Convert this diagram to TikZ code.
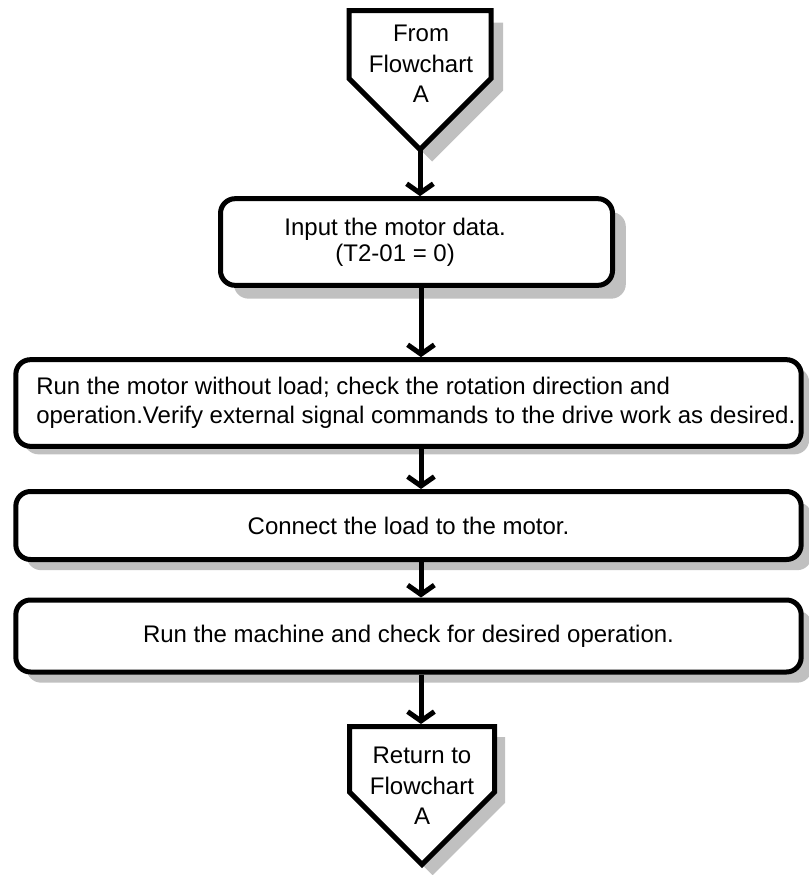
\documentclass[tikz,border=0pt]{standalone}
\usepackage{fontspec}
\setmainfont{Liberation Sans}
\usetikzlibrary{arrows.meta,shadows}
\definecolor{shadowgray}{RGB}{192,192,192}
\tikzset{
  stepbox/.style={draw,line width=3.75pt,fill=white,rounded corners=11pt,inner sep=0pt},
  penta/.style={draw,line width=3.75pt,fill=white},
  flowarrow/.style={line width=3.75pt,-{Straight Barb[length=7pt,width=20pt]}},
  shadowed/.style={drop shadow={shadow xshift=#1,shadow yshift=-#1,fill=shadowgray,opacity=1}},
}
\begin{document}
\begin{tikzpicture}[x=0.75pt,y=0.75pt,yscale=-1,xscale=1,font=\fontsize{18}{22}\selectfont]
        \useasboundingbox (0,0) rectangle (808,875);
        \draw[penta,shadowed=9pt] (349,10.5) -- (491,10.5) -- (491,78.5) -- (420,149.5) -- (349,78.5) -- cycle ;
        \coordinate (fromtip) at (420,149.5);
        \node[align=center,font=\fontsize{18}{23}\selectfont] (fromtext) at (421,64) {From\\Flowchart\\A};
        \node[stepbox,shadowed=10pt,minimum width=294pt,minimum height=65pt,label={[align=center,xshift=-16pt,font=\fontsize{18}{19.5}\selectfont]center:Input the motor data.\\(T2-01 = 0)}] (motordata) at (416.5,242) {};
        \node[stepbox,shadowed=6pt,minimum width=589pt,minimum height=65pt,label={[align=left,anchor=west,inner sep=0pt,xshift=17pt]west:Run the motor without load; check the rotation direction and\\operation.Verify external signal commands to the drive work as desired.}] (norun) at (408.5,403) {};
        \node[stepbox,shadowed=8pt,minimum width=589pt,minimum height=51pt] (connect) at (408.5,525.5) {Connect the load to the motor.};
        \node[stepbox,shadowed=8pt,minimum width=589pt,minimum height=54pt] (machine) at (408.5,636) {Run the machine and check for desired operation.};
        \draw[penta,shadowed=8pt] (349.5,726.5) -- (494.5,726.5) -- (494.5,792) -- (422,864.5) -- (349.5,792) -- cycle ;
        \coordinate (rettop) at (421,724);
        \node[align=center,font=\fontsize{18}{23}\selectfont] (rettext) at (422,786) {Return to\\Flowchart\\A};
        \draw[flowarrow] (fromtip) -- (fromtip |- motordata.north);
        \draw[flowarrow] (motordata.south -| rettop) -- (norun.north -| rettop);
        \draw[flowarrow] (norun.south -| rettop) -- (connect.north -| rettop);
        \draw[flowarrow] (connect.south -| rettop) -- (machine.north -| rettop);
        \draw[flowarrow] (machine.south -| rettop) -- (rettop);
\end{tikzpicture}
\end{document}
